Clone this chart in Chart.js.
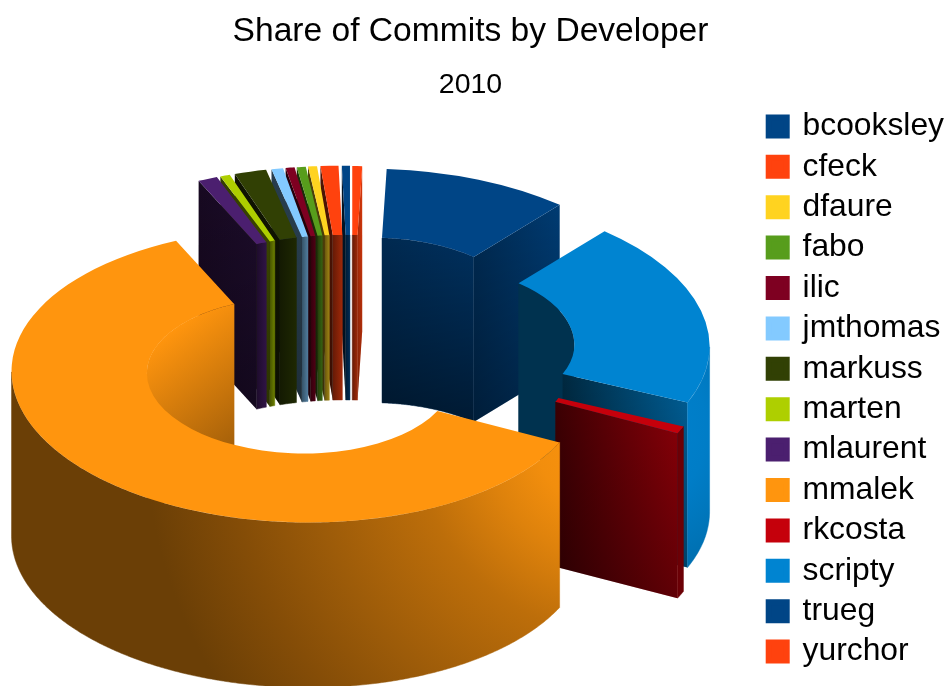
<!DOCTYPE html>
<html>
<head>
<meta charset="utf-8">
<title>Share of Commits by Developer</title>
<script src="https://cdn.jsdelivr.net/npm/chart.js@4"></script>
<style>
  html, body { margin: 0; padding: 0; background: #fff; overflow: hidden; }
  canvas { display: block; }
</style>
</head>
<body>
<canvas id="commitsChart" width="945" height="686"></canvas>
<script>
const developers = ['bcooksley', 'cfeck', 'dfaure', 'fabo', 'ilic', 'jmthomas', 'markuss', 'marten', 'mlaurent', 'mmalek', 'rkcosta', 'scripty', 'trueg', 'yurchor'];
const commitShare = [0.45, 1.0, 0.5, 0.5, 0.5, 0.65, 1.8, 0.55, 1.1, 60.85, 0.8, 20.3, 10.4, 0.55];
const sliceColors = ['#004586', '#ff420e', '#ffd320', '#579d1c', '#7e0021', '#83caff', '#314004', '#aecf00', '#4b1f6f', '#ff950e', '#c5000b', '#0084d1', '#004586', '#ff420e'];

// Tilted view of the ring: the doughnut is laid flat and mirrored so it runs counter-clockwise
const viewCenter = { x: 351, y: 350 };
const viewRadius = { x: 288, y: 147 };
const viewSkew = 0.015;
const wallHeight = 165;
const explode = 0.2526;
const angleStep = Math.PI / 360;

function shade(hex, f) {
    const n = parseInt(hex.slice(1), 16);
    const c = [n >> 16, (n >> 8) & 255, n & 255].map(v => Math.min(255, Math.round(v * f)));
    return `rgb(${c[0]},${c[1]},${c[2]})`;
}

const ringPlugin = {
    id: 'ring3d',
    // Slices are painted back to front, each with its walls and then its top
    beforeDatasetDraw(chart, args) {
        const ctx = chart.ctx;
        const arcs = args.meta.data.slice().sort((p, q) => {
            return Math.sin((p.startAngle + p.endAngle) / 2) - Math.sin((q.startAngle + q.endAngle) / 2);
        });
        arcs.forEach(arc => drawSlice(ctx, arc));
        return false;
    }
};

function drawSlice(ctx, arc) {
    const R = arc.outerRadius;
    const mid = (arc.startAngle + arc.endAngle) / 2;
    const shift = explode * R;
    const color = arc.options.backgroundColor;
    const kx = -viewRadius.x / R;
    const ky = viewRadius.y / R;
    const project = (angle, radius) => {
        const px = kx * (radius * Math.cos(angle) + shift * Math.cos(mid));
        const py = ky * (radius * Math.sin(angle) + shift * Math.sin(mid));
        return { x: viewCenter.x + px, y: viewCenter.y + py + viewSkew * px };
    };

    // Curved walls only show on the half of the ring facing the viewer
    const span = arc.endAngle - arc.startAngle;
    const steps = Math.max(2, Math.ceil(span / angleStep));
    const angles = [];
    for (let i = 0; i <= steps; i++) angles.push(arc.startAngle + span * i / steps);
    const innerPoints = angles.filter(a => Math.sin(a) < 0.001).map(a => project(a, arc.innerRadius));
    drawCurvedWall(ctx, innerPoints, innerFill(ctx, color, span));
    if (span > 0.4 && span < 1) shadeWall(ctx, innerPoints, 0.45);

    [[arc.startAngle, -Math.cos(arc.startAngle), Math.sin(arc.startAngle)], [arc.endAngle, Math.cos(arc.endAngle), -Math.sin(arc.endAngle)]].forEach(([angle, facing, nx]) => {
        if (facing <= 0) return;
        const a = project(angle, arc.innerRadius);
        const b = project(angle, arc.outerRadius);
        drawSideWall(ctx, a, b, color, -nx);
    });

    const outerPoints = angles.filter(a => Math.sin(a) > -0.001).map(a => project(a, arc.outerRadius));
    drawCurvedWall(ctx, outerPoints, span < 0.2 ? shade(color, 0.55) : outerFill(ctx, color));

    ctx.save();
    ctx.transform(kx, viewSkew * kx, 0, ky, viewCenter.x, viewCenter.y);
    ctx.translate(shift * Math.cos(mid) - arc.x, shift * Math.sin(mid) - arc.y);
    arc.draw(ctx);
    ctx.restore();
}

function wallPath(ctx, points) {
    ctx.beginPath();
    points.forEach((p, i) => i ? ctx.lineTo(p.x, p.y) : ctx.moveTo(p.x, p.y));
    points.slice().reverse().forEach(p => ctx.lineTo(p.x, p.y + wallHeight));
    ctx.closePath();
}

function drawCurvedWall(ctx, points, fill) {
    if (points.length < 2) return;
    const xs = points.map(p => p.x);
    wallPath(ctx, points);
    ctx.fillStyle = typeof fill === 'function' ? fill(Math.min(...xs), Math.max(...xs)) : fill;
    ctx.fill();
    ctx.strokeStyle = ctx.fillStyle;
    ctx.lineWidth = 0.5;
    ctx.stroke();
}

// Lower part of a wall falls into shadow
function shadeWall(ctx, points, strength) {
    if (points.length < 2) return;
    const ys = points.map(p => p.y);
    const s = ctx.createLinearGradient(0, Math.min(...ys), 0, Math.max(...ys) + wallHeight);
    s.addColorStop(0, 'rgba(0,0,0,0)');
    s.addColorStop(1, `rgba(0,0,0,${strength})`);
    wallPath(ctx, points);
    ctx.fillStyle = s;
    ctx.fill();
}

function outerFill(ctx, color) {
    const g = ctx.createRadialGradient(620, 430, 0, 620, 430, 540);
    [[0, 1], [0.16, 0.95], [0.25, 0.87], [0.38, 0.74], [0.58, 0.61], [0.72, 0.52], [0.88, 0.42], [1, 0.42]].forEach(([t, f]) => g.addColorStop(t, shade(color, f)));
    return g;
}

function innerFill(ctx, color, span) {
    if (span > Math.PI) {
        const g = ctx.createLinearGradient(160, 340, 245, 450);
        g.addColorStop(0, shade(color, 1));
        g.addColorStop(1, shade(color, 0.62));
        return g;
    }
    if (span > 1) return shade(color, 0.38);
    return (x0, x1) => {
        const g = ctx.createLinearGradient(x0, 0, x1, 0);
        g.addColorStop(0, shade(color, span > 0.4 ? 0.6 : 0.4));
        g.addColorStop(1, shade(color, span > 0.4 ? 0.7 : 0.62));
        return g;
    };
}

function drawSideWall(ctx, a, b, color, nx) {
    const left = a.x < b.x ? a : b;
    const right = a.x < b.x ? b : a;
    const f0 = 0.3 + Math.max(0, nx) * 0.4;
    const f1 = nx < -0.4 ? 0.38 + (nx + 0.9) * 0.67 : 0.72 + (nx + 0.4) * 0.11;
    const g = ctx.createLinearGradient(left.x, 0, right.x, 0);
    g.addColorStop(0, shade(color, f0));
    g.addColorStop(1, shade(color, f1));
    wallPath(ctx, [a, b]);
    ctx.fillStyle = g;
    ctx.fill();
    shadeWall(ctx, [a, b], 0.3);
}

new Chart(document.getElementById('commitsChart'), {
    type: 'doughnut',
    data: {
        labels: developers,
        datasets: [{
            data: commitShare,
            backgroundColor: sliceColors,
            borderWidth: 0
        }]
    },
    options: {
        responsive: false,
        animation: false,
        cutout: '53%',
        layout: { padding: { right: 4 } },
        plugins: {
            title: {
                display: true,
                text: 'Share of Commits by Developer',
                color: '#000',
                font: { family: 'Liberation Sans', size: 33.6, weight: 'normal' },
                padding: { top: 12, bottom: 12 }
            },
            subtitle: {
                display: true,
                text: '2010',
                color: '#000',
                font: { family: 'Liberation Sans', size: 28.5, weight: 'normal' },
                padding: { top: 4, bottom: 10 }
            },
            legend: {
                position: 'right',
                labels: {
                    boxWidth: 18,
                    boxHeight: 18,
                    padding: 8.6,
                    color: '#000',
                    font: { family: 'Liberation Sans', size: 31.8 },
                    generateLabels(chart) {
                        return developers.map((name, i) => ({
                            text: name,
                            fillStyle: sliceColors[i],
                            strokeStyle: sliceColors[i],
                            lineWidth: 6,
                            index: i
                        }));
                    }
                }
            },
            tooltip: { enabled: false }
        }
    },
    plugins: [ringPlugin, {
        id: 'legendEdge',
        // Names run right up to the canvas edge, and the list sits below the headings
        afterLayout(chart) {
            chart.legend.left += 13;
            chart.legend.right += 14;
            chart.legend.top += 46;
            chart.legend.bottom += 46;
        }
    }]
});
</script>
</body>
</html>
